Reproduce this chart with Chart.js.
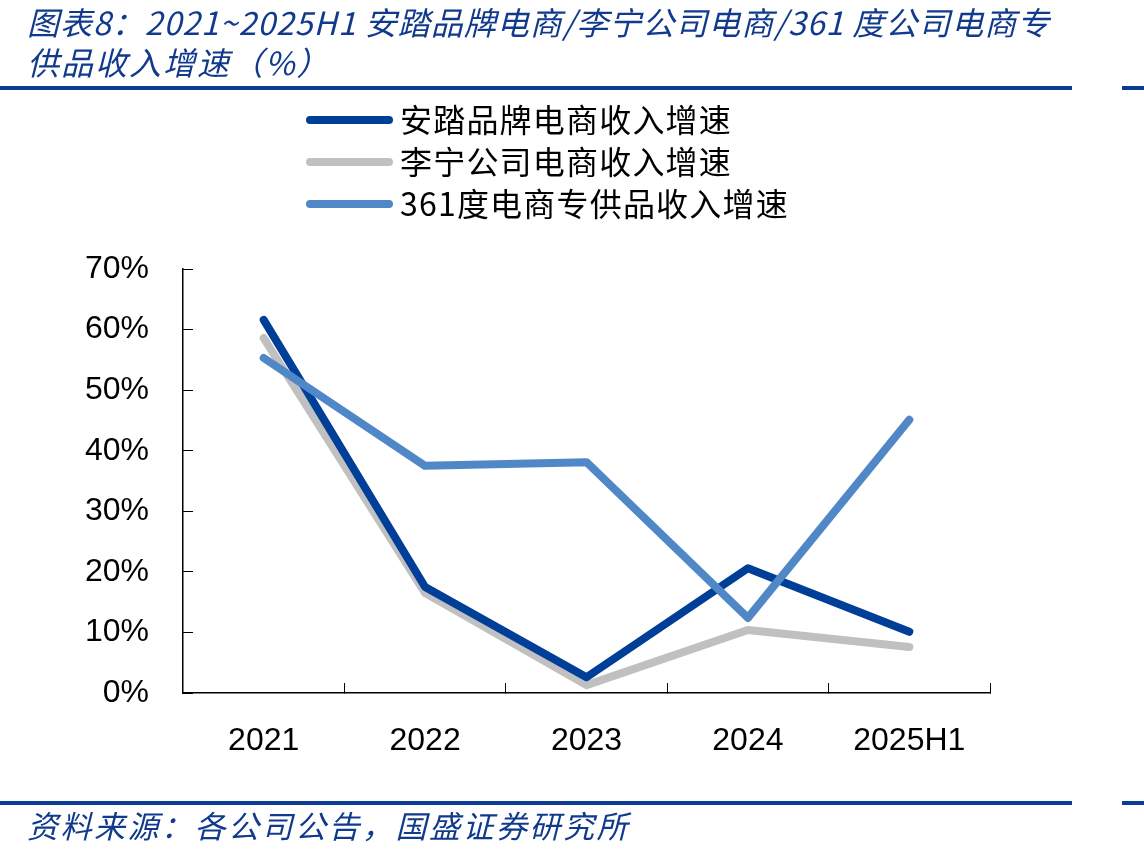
<!DOCTYPE html>
<html>
<head>
<meta charset="utf-8">
<script src="https://cdn.jsdelivr.net/npm/chart.js@4.4.1/dist/chart.umd.min.js"></script>
<style>
    html, body { margin: 0; padding: 0; background: #ffffff; }
    #growthChart { display: block; }
</style>
</head>
<body>
<canvas id="growthChart" width="1144" height="856"></canvas>
<script>
// ==============================================================================
// 1. DATA
// ==============================================================================
const categories = ["2021", "2022", "2023", "2024", "2025H1"];
const antaGrowth = [61.6, 17.5, 2.6, 20.6, 10.1];
const liningGrowth = [58.6, 16.5, 1.3, 10.4, 7.6];
const growth361 = [55.3, 37.5, 38.1, 12.4, 45.1];
const seriesLabels = ["安踏品牌电商收入增速", "李宁公司电商收入增速", "361度电商专供品收入增速"];
const yTicks = [0, 10, 20, 30, 40, 50, 60, 70];

const titleLines = [
    "图表8：2021~2025H1 安踏品牌电商/李宁公司电商/361 度公司电商专",
    "供品收入增速（%）"
];
const sourceText = "资料来源：各公司公告，国盛证券研究所";

// ==============================================================================
// 2. STYLE
// ==============================================================================
const NAVY = "#0b3c93";
const CJK = '"Noto Sans CJK SC", sans-serif';
const LATIN = '"Liberation Sans", Arial, sans-serif';
const seriesColors = ["#003f98", "#c0c0c0", "#5087c7"];

// ==============================================================================
// 3. PLUGINS (title, rules, legend, source)
// ==============================================================================
const decorPlugin = {
    id: 'decor',
    afterDraw(chart) {
        const ctx = chart.ctx;
        ctx.save();
        ctx.textBaseline = 'middle';
        ctx.textAlign = 'left';

        // Title
        ctx.fillStyle = "#113a8c";
        ctx.font = 'italic 32px ' + CJK;
        ctx.letterSpacing = '1px';
        ctx.fillText(titleLines[0], 27, 23);
        ctx.letterSpacing = '2px';
        ctx.fillText(titleLines[1], 27, 63);

        // Rules
        ctx.fillStyle = NAVY;
        ctx.fillRect(0, 86, 1072, 4);
        ctx.fillRect(1122, 86, 22, 4);
        ctx.fillRect(0, 801, 1072, 4);
        ctx.fillRect(1122, 801, 22, 4);

        // Source
        ctx.fillStyle = "#113a8c";
        ctx.font = 'italic 31px ' + CJK;
        ctx.letterSpacing = '2.5px';
        ctx.fillText(sourceText, 27, 826);

        // Legend (one row per series)
        ctx.letterSpacing = '1.2px';
        chart.data.datasets.forEach((ds, i) => {
            const y = 120 + i * 42;
            ctx.strokeStyle = ds.borderColor;
            ctx.lineWidth = 8;
            ctx.lineCap = 'round';
            ctx.beginPath();
            ctx.moveTo(310, y);
            ctx.lineTo(389, y);
            ctx.stroke();
            ctx.fillStyle = "#000000";
            ctx.font = '32px ' + CJK;
            ctx.fillText(ds.label, 400, y);
        });

        ctx.restore();
    }
};

// ==============================================================================
// 4. CHART
// ==============================================================================
function makeSeries(label, data, color, order) {
    return {
        label: label,
        data: data,
        borderColor: color,
        backgroundColor: color,
        borderWidth: 8,
        borderCapStyle: 'round',
        borderJoinStyle: 'round',
        pointRadius: 0,
        tension: 0,
        fill: false,
        order: order
    };
}

new Chart(document.getElementById("growthChart"), {
    type: 'line',
    data: {
        labels: categories,
        datasets: [
            makeSeries(seriesLabels[0], antaGrowth, seriesColors[0], 2),
            makeSeries(seriesLabels[1], liningGrowth, seriesColors[1], 3),
            makeSeries(seriesLabels[2], growth361, seriesColors[2], 1)
        ]
    },
    options: {
        responsive: false,
        animation: false,
        layout: { padding: { left: 0, top: 269, right: 154, bottom: 103 } },
        plugins: {
            legend: { display: false },
            title: { display: false },
            tooltip: { enabled: false }
        },
        scales: {
            x: {
                offset: true,
                grid: { offset: true, drawOnChartArea: false, color: "#000000", tickLength: -10, lineWidth: 1 },
                border: { display: true, color: "#000000", width: 1.5 },
                ticks: { color: "#000000", font: { family: LATIN, size: 32 }, padding: 39, maxRotation: 0 },
                afterFit(scale) { scale.height = 60; scale.paddingLeft = 0; scale.paddingRight = 0; }
            },
            y: {
                min: yTicks[0],
                max: yTicks[yTicks.length - 1],
                afterBuildTicks(scale) { scale.ticks = yTicks.map(v => ({ value: v })); },
                grid: { drawOnChartArea: false, color: "#000000", tickLength: -10, lineWidth: 1 },
                border: { display: true, color: "#000000", width: 1.5 },
                ticks: { color: "#000000", font: { family: LATIN, size: 32 }, padding: 44, callback: v => v + '%' },
                afterFit(scale) { scale.width = 183; scale.paddingTop = 0; scale.paddingBottom = 0; }
            }
        }
    },
    plugins: [decorPlugin]
});
</script>
</body>
</html>
